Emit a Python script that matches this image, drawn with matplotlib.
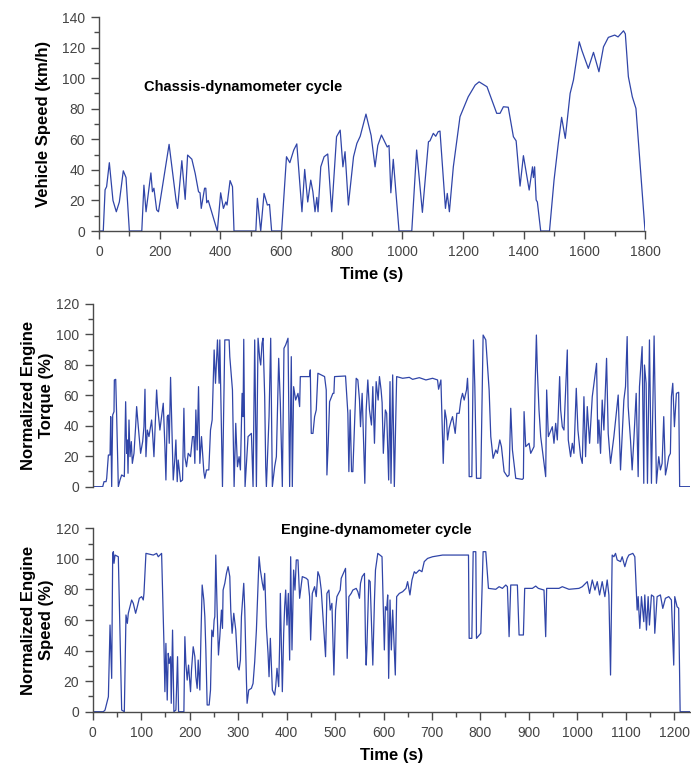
import matplotlib.pyplot as plt
from matplotlib.ticker import MultipleLocator

# --- Chassis-dynamometer cycle: vehicle speed (km/h) ---
speed_t = [0, 14, 20, 25, 34, 46, 57, 67, 80, 89, 100, 141, 148, 155, 171, 176, 181, 190, 196,
           231, 254, 259, 273, 284, 292, 306, 317, 328, 333, 337, 348, 352, 355, 360, 390, 401,
           410, 418, 422, 432, 440, 445, 517, 522, 533, 544, 555, 562, 569, 602, 618, 629, 642,
           652, 669, 678, 688, 698, 705, 712, 718, 722, 731, 742, 754, 767, 783, 795, 804, 811,
           822, 839, 850, 861, 880, 897, 910, 919, 931, 950, 956, 962, 970, 989, 1031, 1047,
           1066, 1086, 1091, 1102, 1110, 1118, 1124, 1142, 1148, 1155, 1168, 1190, 1217, 1240,
           1253, 1279, 1295, 1311, 1322, 1333, 1349, 1366, 1375, 1388, 1399, 1418, 1429, 1432,
           1436, 1441, 1445, 1456, 1485, 1500, 1514, 1525, 1537, 1553, 1564, 1583, 1592, 1613,
           1630, 1648, 1663, 1679, 1700, 1711, 1729, 1735, 1745, 1758, 1770, 1800]
speed_v = [0, 0, 27, 29, 44.7, 20, 12.6, 19, 39.4, 35, 0, 0, 30, 12.6, 38, 25.7, 28, 13.8, 12.6,
           56.7, 20, 14.8, 46, 20.7, 49.7, 47, 37.7, 25.7, 25, 14.8, 28, 28, 18.5, 20, 0, 25,
           14.8, 19, 17, 33, 29, 0, 0, 21.4, 0, 24.6, 17, 17.4, 0, 0, 48.6, 44.7, 53,
           57, 12.6, 40.3, 19, 33.3, 25.7, 12.6, 22, 12.6, 42, 48.6, 50.4, 12.6, 61.7, 66, 42, 51.9,
           17, 48.6, 57.3, 62, 76.5, 62.5, 42, 56, 62.8, 55, 56, 25, 46.9, 0, 0, 53,
           12.2, 58.4, 59, 63.9, 62, 65, 65.4, 14.8, 24.6, 12.6, 42, 74.8, 87.8, 95.5,
           97.6, 94.4, 85.7, 77, 77, 81.3, 81, 61.7, 59, 29.4, 49.3, 26.8, 42, 35,
           42, 20.3, 19, 0, 0, 33.3, 57.3, 74.4, 60.6, 90, 98.8, 123.8, 118, 106.4,
           116.9, 104.2, 120.5, 126.7, 128.2, 127, 131, 129, 101, 87.8, 80.2, 0]

# --- Engine-dynamometer cycle: normalized torque (%) ---
torque_t = [0, 20.6, 23.3, 27.5, 28.8, 32.3, 35.7, 37.1, 39.1, 41.2, 43.9, 44.6, 47.4, 49.4, 52.8,
            56.3, 59.7, 65.2, 67.9, 70, 71.4, 72.8, 74.8, 76.9, 79.6, 81.7, 85.1, 88.5, 90.6, 94,
            98.8, 103, 105.7, 107.8, 109.8, 112.6, 116, 119.4, 121.5, 123.5, 126.3, 131.8, 133.8,
            138.6, 145.5, 148.9, 151, 153.7, 155.8, 157.9, 160.6, 166.1, 169.5, 171.6, 174.3,
            176.4, 181.2, 185.3, 188.1, 190.1, 193.5, 197, 201.8, 205.9, 208.6, 210.7, 212.8,
            215.5, 218.3, 221, 224.4, 229.2, 231.3, 234.7, 239.5, 243, 246.4, 250.5, 253.3, 257.4,
            260.8, 262.2, 267.7, 272.5, 281.4, 282.8, 288.3, 291.7, 295.1, 298.6, 302, 304.7,
            308.2, 310.2, 311.6, 314.3, 320.5, 327.4, 330.8, 334.2, 337.7, 341.1, 344.5, 346.6,
            349.3, 351.4, 354.8, 356.9, 358.3, 363.8, 367.2, 370.6, 375.4, 378.9, 383.7, 387.1,
            391.2, 394.6, 398.1, 402.9, 406.3, 409.7, 411.8, 414.5, 418.7, 423.5, 426.9, 428.3,
            447.5, 448.9, 450.9, 454.4, 457.8, 461.2, 464.6, 478.4, 481.8, 483.2, 485.9, 488.7,
            495.5, 497.6, 499, 521.6, 523, 526.4, 528.5, 531.2, 534, 536.7, 543.6, 547, 550.4,
            552.5, 555.9, 558.7, 561.4, 564.2, 567.6, 571, 575.1, 577.9, 581.3, 584.8, 588.9,
            591.6, 595, 597.1, 599.6, 603.8, 606.5, 610.6, 613.4, 615.4, 618.9, 622.3, 627.1,
            639.4, 653.2, 660, 673.8, 687.5, 701.2, 711.5, 713.6, 718.4, 723.2, 726.6, 730, 732.1,
            735.5, 739, 742.4, 747.9, 751.3, 756.1, 759.6, 763, 766.4, 771.2, 773.3, 775.3, 776.7,
            782.2, 785.6, 788.4, 791.8, 800.7, 805.5, 811, 817.9, 821.3, 826.1, 831.6, 835, 839.9,
            843.3, 848.8, 855.6, 859.1, 862.5, 866, 872.8, 886.5, 888.6, 890, 893.4, 900.3, 903.7,
            910.5, 912.6, 915.4, 917.4, 920.8, 924.3, 927.7, 934.6, 936.6, 940.1, 948.3, 951.7,
            955.2, 958.6, 963.4, 965.5, 968.9, 972.3, 979.2, 981.2, 986, 989.5, 992.9, 997.7,
            1001.1, 1006.6, 1010.1, 1013.5, 1016.9, 1020.4, 1025.2, 1030.7, 1039.6, 1042.3, 1044.4,
            1047.8, 1051.2, 1054.7, 1060.2, 1063.6, 1068.4, 1075.3, 1084.2, 1089, 1095.9, 1099.3,
            1102.7, 1104.8, 1109.6, 1113, 1116.5, 1121.3, 1125.4, 1128.1, 1133.6, 1137, 1138.4,
            1141.8, 1144.6, 1148.7, 1152.8, 1158.3, 1163.1, 1167.9, 1171.3, 1174.8, 1178.2,
            1181.7, 1185.1, 1188.5, 1191.9, 1194, 1196.8, 1200.2, 1204.3, 1209, 1211, 1233]
torque_v = [0, 0, 3.3, 3.3, 5.5, 20.8, 20.8, 46, 0, 47.1, 49.3, 70.1, 70.5, 46, 0,
            4.4, 7.7, 6.6, 55.8, 21.9, 30.7, 8.8, 43.8, 19.7, 29.6, 15.3, 21.9, 39.4, 52.6, 39.4,
            21.9, 29.6, 39.4, 64, 19.7, 37.2, 32.9, 39.4, 43.8, 35, 19.7, 63.5, 52.6,
            37.2, 54.8, 26.3, 4.4, 46, 47.1, 28.5, 71.8, 4.4, 18.6, 30.7, 3.3,
            17.5, 3.3, 4.4, 51.5, 19.7, 13.1, 21.9, 19.7, 32.9, 32.9, 15.3, 50.4,
            24.1, 65.7, 15.3, 32.9, 9.9, 5.5, 11, 11, 37.2, 43.8, 89.8, 67.9, 96.4,
            67.9, 96.4, 0, 96.4, 96.4, 85.4, 63.5, 0, 41.6, 13.1, 19.7, 11,
            61.3, 46, 96.8, 0, 32.9, 35, 0, 96.4, 0, 97.5, 84.3, 79.9,
            94.2, 97.5, 59.1, 13.1, 0, 46, 97.5, 0, 13.1, 19.7, 84.3, 54.8,
            0, 90.9, 93.1, 97.5, 0, 85.4, 0, 65.7, 56.9, 61.3, 52.6, 72.3,
            72.3, 76.7, 35, 35, 46, 50.4, 74.5, 72.3, 63.5, 7.7, 28.5, 55.8,
            61.3, 61.3, 72.3, 72.7, 65.7, 48.2, 9.9, 50.4, 9.9, 9.9, 71.2, 70.1, 56.9,
            39.4, 61.3, 30.7, 2.2, 50.4, 70.1, 50.4, 40.5, 65.7, 28.5, 69, 56.9,
            72.3, 63.5, 55.2, 21.9, 50.4, 48.2, 4.4, 69, 2.2, 73.4, 0, 72.3,
            71.2, 71.8, 70.5, 71.6, 70.1, 71.2, 70.1, 64, 70.1, 15.3, 50.4, 43.8, 30.7,
            38.5, 42.7, 46, 35, 48.2, 48.2, 56.9, 61.3, 56.9, 63.5, 71.2, 56.9, 6.6,
            6.6, 96.4, 65.7, 5.5, 5.5, 99.6, 96.4, 63.5, 32.9, 18.6, 24.1, 21.9, 30.7,
            26.3, 9.9, 6.6, 7.7, 51.5, 24.1, 5.5, 4.8, 5.5, 49.3, 26.3, 28.5, 21.9,
            26.3, 63.5, 99.6, 76.7, 50.4, 32.9, 24.1, 6.6, 63.5, 32.9, 39.4, 28.5,
            41.6, 30.7, 72.3, 50.4, 39.4, 37.2, 89.8, 30.7, 19.7, 28.5, 21.9, 64.6,
            37.2, 19.7, 15.3, 59.1, 19.7, 52.6, 28.5, 59.1, 81, 28.5, 43.8,
            21.9, 56.9, 37.2, 84.3, 35, 15.3, 32.9, 60.2, 11, 56.9, 65.7,
            98.6, 52.6, 30.7, 11, 30.7, 61.3, 6.6, 65.7, 92, 2.2, 79.9,
            67.9, 2.2, 96.4, 2.2, 99, 2.2, 19.7, 11, 15.3, 46,
            7.7, 13.1, 19.7, 21.9, 59.1, 67.9, 39.4, 61.3, 62, 0, 0]

# --- Engine-dynamometer cycle: normalized engine speed (%) ---
espeed_t = [0, 22, 25.4, 32.3, 35.7, 39.1, 41.2, 42.6, 43.9, 46, 52.8, 59.7, 65.2, 68.6, 71.4,
            73.4, 80.3, 83.7, 88.5, 92, 96.1, 100.9, 104.3, 105.7, 109.8, 124.9, 131.8, 135.2,
            142.1, 146.9, 148.9, 151, 153.7, 155.8, 157.9, 160.6, 162, 164.7, 167.5, 171.6, 175,
            177.1, 188.1, 190.1, 192.2, 194.9, 197.7, 201.8, 203.8, 207.3, 210.7, 212.8, 215.5,
            217.6, 221, 223.1, 225.8, 229.2, 231.3, 233.4, 236.1, 240.2, 243, 245.7, 248.5, 250.5,
            251.9, 253.9, 256.7, 259.4, 262.2, 265.6, 267.7, 269, 272.5, 275.9, 279.3, 282.8,
            284.8, 287.6, 291, 295.1, 299.2, 302, 304.7, 306.8, 311.6, 313.7, 317.1, 318.5, 321.9,
            327.4, 330.8, 334.2, 337.7, 341.1, 343.2, 345.9, 350, 352.8, 354.8, 358.3, 361.7,
            363.8, 366.5, 370.6, 375.4, 377.5, 380.2, 383.7, 385.7, 387.1, 391.2, 394, 396, 398.1,
            400.8, 403.6, 406.3, 408.4, 411.1, 414.5, 417.3, 420, 423.5, 426.9, 432.4, 440.6,
            444.1, 447.5, 449.6, 453, 457.8, 461.2, 464.6, 468.1, 471.5, 480.4, 483.2, 487.3, 490,
            493.5, 497.6, 501, 503.8, 510.6, 512.7, 521.6, 523, 525, 528.5, 533.3, 536.7, 543.6,
            547, 550.4, 552.5, 555.9, 560.7, 562.8, 564.2, 565.5, 569.7, 572.4, 577.9, 581.3,
            583.4, 588.2, 596.9, 601.7, 603.8, 606.5, 608.6, 610.6, 613.4, 616.1, 618.9, 624.3,
            627.1, 632.6, 639.4, 646.3, 649.7, 654.5, 658.7, 663.5, 666.9, 673.8, 679.3, 684,
            690.9, 701.2, 721.8, 749.3, 775.3, 776.7, 782.2, 785, 790.4, 791.8, 800.7, 805.5, 811,
            816.5, 831.6, 838.5, 845.3, 852.2, 855.6, 859.1, 862.5, 876.2, 879.7, 888.6, 891.3,
            907.1, 914, 919.5, 931.1, 934.6, 936.6, 962, 968.9, 982.6, 1003.2, 1010.1, 1016.9,
            1020.4, 1025.2, 1030.7, 1036.2, 1041, 1045.8, 1051.2, 1056.7, 1061.5, 1065, 1068.4,
            1071.8, 1075.3, 1078.7, 1082.1, 1089, 1092.4, 1097.9, 1102.7, 1106.2, 1114.4, 1118.5,
            1123.3, 1125.4, 1128.8, 1132.2, 1137, 1139.1, 1142.5, 1146, 1148.7, 1152.8, 1157.6,
            1159.7, 1164.5, 1171.3, 1176.2, 1181.6, 1188.5, 1194, 1198.8, 1200.9, 1205.7, 1209,
            1212, 1233]
espeed_v = [0, 0, 1.1, 9.8, 56.7, 21.8, 103.6, 104.7, 97.1, 102.5, 101.4, 1.1, 0, 63.3, 57.8,
            64.4, 73.1, 70.9, 64.4, 68.7, 74.2, 75.3, 73.1, 77.4, 103.6, 102.5, 103.6, 101.4,
            103.6, 44.7, 13.1, 44.7, 7.6, 38.2, 31.6, 36, 5.5, 53.4, 0, 1.1, 36,
            0, 0, 49.1, 31.6, 20.7, 30.5, 13.1, 27.3, 42.5, 36, 22.9, 15.3,
            33.8, 14.2, 46.9, 82.9, 73.1, 62.2, 40.4, 4.4, 4.4, 14.2, 53.4, 49.1, 60,
            62.2, 102.5, 66.5, 37.1, 49.1, 66.5, 54.5, 79.6, 84, 90.5, 94.9, 88.4,
            66.5, 51.3, 64.4, 53.4, 29.5, 27.3, 33.8, 62.2, 84, 66.5, 20.7, 5.5, 14.2,
            15.3, 18.5, 32.7, 53.4, 84, 101.4, 92.7, 84, 79.6, 90.5, 55.6, 38.2,
            22.9, 48, 14.2, 10.9, 16.4, 28.4, 16.4, 44.7, 77.4, 13.1, 51.3, 68.7, 79.6,
            56.7, 77.4, 33.8, 101.4, 40.4, 92.7, 79.6, 99.3, 99.3, 74.2, 88.4, 87.3,
            86.2, 75.3, 46.9, 77.4, 81.8, 75.3, 91.6, 88.4, 79.6, 36, 77.4, 79.6, 66.5,
            70.9, 24, 66.5, 75.3, 79.6, 87.3, 93.8, 73.1, 34.9, 75.3, 77.4, 79.6, 80.7,
            78.5, 74.2, 84, 88.4, 90.5, 44.7, 30.5, 40.4, 86.2, 85.1, 30.5, 73.1,
            92.7, 103.6, 101.4, 40.4, 68.7, 66.5, 76.4, 21.8, 73.1, 40.4, 66.5, 24,
            75.3, 77.4, 78.5, 80.7, 85.1, 76.4, 86.2, 91.6, 90.5, 92.7, 91.6, 98.2,
            100.3, 101.4, 102.5, 102.5, 102.5, 48, 48, 104.7, 104.7, 48, 51.3, 104.7, 104.7,
            80.7, 80.1, 81.8, 80.7, 82.9, 81.8, 49.1, 82.9, 82.9, 50.2, 50.2, 80.7,
            80.7, 82.2, 80.7, 79.6, 49.1, 80.7, 80.7, 81.8, 80.1, 80.7, 81.8, 84,
            85.1, 77.4, 86.2, 79.6, 85.1, 76.4, 85.1, 75.3, 86.2, 76.4, 24,
            102.5, 101.4, 103.6, 99.3, 98.2, 101.4, 94.9, 100.3, 102.5, 103.6, 101.4,
            66.5, 75.3, 54.5, 75.3, 58.9, 76.4, 53.4, 75.3, 56.7, 76.4, 75.3,
            51.3, 75.3, 76.4, 67.6, 74.2, 75.3, 73.1, 30.5, 75.3, 68.7, 67.7,
            0, 0]

line_color = "#3045A8"
axis_color = "#4a4a4a"

plt.rcParams["font.family"] = ["Liberation Sans", "DejaVu Sans"]

fig = plt.figure(figsize=(6.91, 7.68), dpi=100)
ax1 = fig.add_axes([0.1433, 0.6992, 0.7902, 0.2786])
ax2 = fig.add_axes([0.1342, 0.3663, 0.8648, 0.2379])
ax3 = fig.add_axes([0.1342, 0.0733, 0.8648, 0.2388])


def style(ax):
    for side in ["top", "right"]:
        ax.spines[side].set_visible(False)
    for side in ["left", "bottom"]:
        ax.spines[side].set_color(axis_color)
        ax.spines[side].set_linewidth(1.0)
    ax.tick_params(which="major", direction="out", length=6, width=1.0,
                   color=axis_color, labelsize=10, labelcolor="#444444", pad=4)
    ax.tick_params(which="minor", direction="out", length=3.5, width=1.0, color=axis_color)


# --- top panel ---
ax1.plot(speed_t, speed_v, color=line_color, linewidth=0.9)
ax1.set_xlim(0, 1800)
ax1.set_ylim(0, 140)
ax1.xaxis.set_major_locator(MultipleLocator(200))
ax1.xaxis.set_minor_locator(MultipleLocator(100))
ax1.yaxis.set_major_locator(MultipleLocator(20))
ax1.yaxis.set_minor_locator(MultipleLocator(10))
style(ax1)
ax1.set_xlabel("Time (s)", fontsize=12, fontweight="bold")
ax1.set_ylabel("Vehicle Speed (km/h)", fontsize=12, fontweight="bold")
ax1.xaxis.set_label_coords(0.5, -0.17)
ax1.yaxis.set_label_coords(-0.088, 0.5)
ax1.text(475, 94, "Chassis-dynamometer cycle", fontsize=10.5, fontweight="bold",
         ha="center", va="center")

# --- middle panel ---
ax2.plot(torque_t, torque_v, color=line_color, linewidth=0.9)
ax2.set_xlim(0, 1233)
ax2.set_ylim(0, 120)
ax2.yaxis.set_major_locator(MultipleLocator(20))
ax2.yaxis.set_minor_locator(MultipleLocator(10))
style(ax2)
ax2.spines["bottom"].set_visible(False)
ax2.set_xticks([])
ax2.set_ylabel("Normalized Engine\nTorque (%)", fontsize=12, fontweight="bold",
               linespacing=1.25)
ax2.yaxis.set_label_coords(-0.064, 0.5)

# --- bottom panel ---
ax3.plot(espeed_t, espeed_v, color=line_color, linewidth=0.9)
ax3.set_xlim(0, 1233)
ax3.set_ylim(0, 120)
ax3.xaxis.set_major_locator(MultipleLocator(100))
ax3.xaxis.set_minor_locator(MultipleLocator(50))
ax3.yaxis.set_major_locator(MultipleLocator(20))
ax3.yaxis.set_minor_locator(MultipleLocator(10))
style(ax3)
ax3.set_xlabel("Time (s)", fontsize=12, fontweight="bold")
ax3.set_ylabel("Normalized Engine\nSpeed (%)", fontsize=12, fontweight="bold",
               linespacing=1.25)
ax3.xaxis.set_label_coords(0.5, -0.2)
ax3.yaxis.set_label_coords(-0.064, 0.5)
ax3.text(586, 119, "Engine-dynamometer cycle", fontsize=10.5, fontweight="bold",
         ha="center", va="center")

fig.savefig("out.png", dpi=100)
